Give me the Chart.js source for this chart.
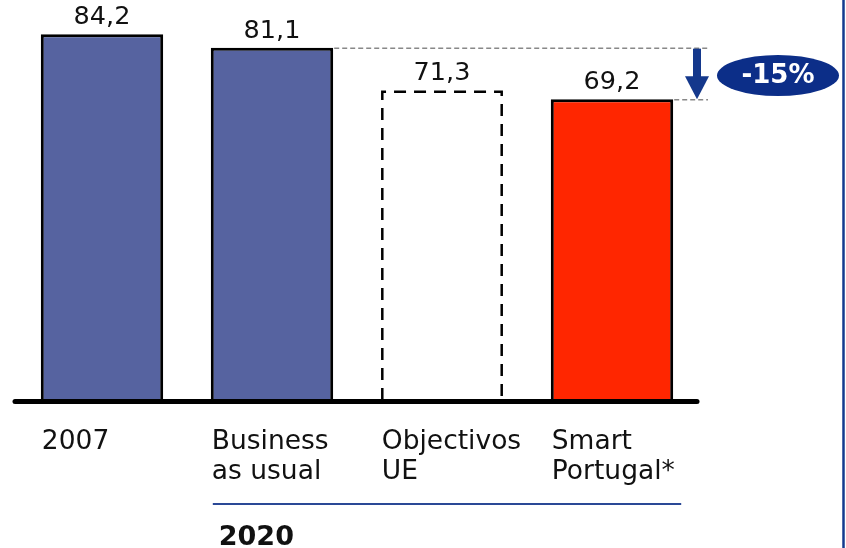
<!DOCTYPE html>
<html>
<head>
<meta charset="utf-8">
<script src="https://cdn.jsdelivr.net/npm/chart.js@4/dist/chart.umd.min.js"></script>
<style>
html,body{margin:0;padding:0;background:#fff;}
#wrap{width:846px;height:548px;position:relative;}
</style>
</head>
<body>
<div id="wrap"><canvas id="c" width="846" height="548"></canvas></div>
<script>
const categories = [["2007"], ["Business", "as usual"], ["Objectivos", "UE"], ["Smart", "Portugal*"]];
const values = [84.2, 81.1, 71.3, 69.2];
const valueLabels = ["84,2", "81,1", "71,3", "69,2"];
const barColors = ["#5663a0", "#5663a0", "rgba(0,0,0,0)", "#ff2600"];
const groupLabel = "2020";
const changeLabel = "-15%";

const FONT = "'DejaVu Sans', Verdana, sans-serif";

const extras = {
  id: 'extras',
  afterDatasetsDraw(chart) {
    const ctx = chart.ctx;
    const meta = chart.getDatasetMeta(0);
    const y = chart.scales.y;
    const zeroY = y.getPixelForValue(0);
    ctx.save();
    // dashed outline for Objectivos UE
    const b2 = meta.data[2];
    const l2 = b2.x - b2.width / 2 + 1.5, r2 = b2.x + b2.width / 2 - 1.5;
    ctx.strokeStyle = '#000';
    ctx.lineWidth = 2.5;
    ctx.setLineDash([12, 8]);
    ctx.beginPath();
    ctx.moveTo(l2, zeroY);
    ctx.lineTo(l2, b2.y + 1.5);
    ctx.lineTo(r2, b2.y + 1.5);
    ctx.lineTo(r2, zeroY);
    ctx.stroke();
    ctx.setLineDash([]);

    // baseline
    ctx.strokeStyle = '#000';
    ctx.lineWidth = 5;
    ctx.lineCap = 'round';
    ctx.beginPath();
    ctx.moveTo(chart.chartArea.left - 2, zeroY + 1.5);
    ctx.lineTo(chart.chartArea.right, zeroY + 1.5);
    ctx.stroke();
    ctx.lineCap = 'butt';

    // value labels
    ctx.fillStyle = '#111';
    ctx.font = '25.5px ' + FONT;
    ctx.textAlign = 'center';
    ctx.textBaseline = 'alphabetic';
    meta.data.forEach((bar, i) => {
      ctx.fillText(valueLabels[i], bar.x, bar.y - 10);
    });

    // category labels
    ctx.font = '26.5px ' + FONT;
    ctx.textAlign = 'left';
    meta.data.forEach((bar, i) => {
      const left = bar.x - bar.width / 2 + 1;
      categories[i].forEach((line, k) => {
        ctx.fillText(line, left, 449 + k * 30);
      });
    });

    // 2020 bracket line
    const b1 = meta.data[1], b3 = meta.data[3];
    ctx.strokeStyle = '#2a4896';
    ctx.lineWidth = 2;
    ctx.beginPath();
    ctx.moveTo(b1.x - b1.width / 2 + 2, 504);
    ctx.lineTo(b3.x + b3.width / 2 + 8, 504);
    ctx.stroke();
    ctx.font = 'bold 27px ' + FONT;
    ctx.fillStyle = '#111';
    ctx.fillText(groupLabel, b1.x - b1.width / 2 + 8, 545);

    // reference dashed lines
    const yTop = y.getPixelForValue(values[1]);
    const yBot = y.getPixelForValue(values[3]);
    const arrowX = 697;
    ctx.strokeStyle = '#888';
    ctx.lineWidth = 1.5;
    ctx.setLineDash([5, 3]);
    ctx.beginPath();
    ctx.moveTo(b1.x + b1.width / 2 + 1, yTop + 0.5);
    ctx.lineTo(arrowX + 11, yTop + 0.5);
    ctx.moveTo(b3.x + b3.width / 2 + 1, yBot + 0.5);
    ctx.lineTo(arrowX + 11, yBot + 0.5);
    ctx.stroke();
    ctx.setLineDash([]);

    // arrow
    ctx.fillStyle = '#14388c';
    ctx.fillRect(arrowX - 4, yTop + 1, 8, (yBot - yTop) - 22);
    ctx.beginPath();
    ctx.moveTo(arrowX - 12, yBot - 23);
    ctx.lineTo(arrowX + 12, yBot - 23);
    ctx.lineTo(arrowX, yBot);
    ctx.closePath();
    ctx.fill();

    // ellipse label
    ctx.fillStyle = '#0c2e88';
    ctx.beginPath();
    ctx.ellipse(778, 75.5, 61, 20.5, 0, 0, Math.PI * 2);
    ctx.fill();
    ctx.fillStyle = '#fff';
    ctx.font = 'bold 26px ' + FONT;
    ctx.textAlign = 'center';
    ctx.textBaseline = 'middle';
    ctx.fillText(changeLabel, 778, 76);

    // right border line
    ctx.strokeStyle = '#143a8e';
    ctx.lineWidth = 2.5;
    ctx.beginPath();
    ctx.moveTo(843.5, 0);
    ctx.lineTo(843.5, 548);
    ctx.stroke();
    ctx.restore();
  }
};

new Chart(document.getElementById('c'), {
  type: 'bar',
  data: {
    labels: categories.map(c => c.join(' ')),
    datasets: [{
      data: values,
      backgroundColor: barColors,
      borderColor: ['#000', '#000', 'rgba(0,0,0,0)', '#000'],
      borderWidth: 3,
      borderSkipped: 'start',
      barPercentage: 0.72,
      categoryPercentage: 1
    }]
  },
  options: {
    responsive: false,
    animation: false,
    layout: { padding: { left: 17, right: 149, top: 9, bottom: 148 } },
    plugins: { legend: { display: false }, tooltip: { enabled: false } },
    scales: {
      x: { display: false },
      y: { display: false, min: 0, max: 90 }
    }
  },
  plugins: [extras]
});
</script>
</body>
</html>
